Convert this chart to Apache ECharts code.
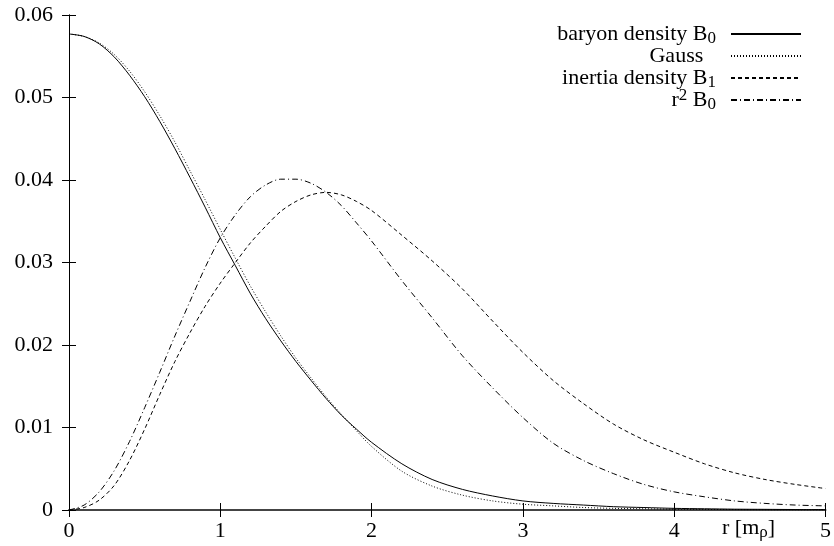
<!DOCTYPE html>
<html>
<head>
<meta charset="utf-8">
<script src="https://cdn.jsdelivr.net/npm/echarts@6/dist/echarts.min.js"></script>
<style>html,body{margin:0;padding:0;background:#fff;}#c{width:834px;height:546px;}</style>
</head>
<body>
<div id="c"></div>
<script>
var seriesNames = ['baryon density B0', 'Gauss', 'inertia density B1', 'r2 B0'];
var xTicks = [0, 1, 2, 3, 4, 5];
var yTicks = [0, 0.01, 0.02, 0.03, 0.04, 0.05, 0.06];
var rValues = [0,0.1,0.2,0.3,0.4,0.5,0.6,0.7,0.8,0.9,1.0,1.1,1.2,1.3,1.4,1.5,1.6,1.7,1.8,1.9,2.0,2.2,2.4,2.6,2.8,3.0,3.2,3.4,3.6,3.8,4.0,4.2,4.4,4.6,4.8,5.0];
var baryonB0 = [0.0577,0.0574,0.0565,0.0549,0.0527,0.0501,0.0471,0.0438,0.0403,0.0367,0.0330,0.0296,0.0262,0.0232,0.0205,0.0180,0.0157,0.0135,0.0115,0.0098,0.0082,0.0056,0.0037,0.0025,0.0017,0.0011,0.0008,0.0006,0.0004,0.0003,0.0002,0.00015,0.0001,0.00008,0.00006,0.00005];
var gauss = [0.0577,0.0574,0.0566,0.0552,0.0532,0.0507,0.0478,0.0446,0.0411,0.0376,0.0340,0.0305,0.0271,0.0240,0.0211,0.0184,0.0160,0.0137,0.0116,0.0096,0.0077,0.0047,0.0029,0.0018,0.0011,0.0007,0.0005,0.0003,0.0002,0.00015,0.0001,0.00007,0.00005,0.00003,0.00002,0.00001];
var inertiaB1 = [0,0.0003,0.0012,0.0030,0.0060,0.0098,0.0140,0.0180,0.0215,0.0247,0.0275,0.0300,0.0324,0.0344,0.0362,0.0374,0.0382,0.0385,0.0382,0.0374,0.0363,0.0333,0.0302,0.0268,0.0229,0.0191,0.0157,0.0129,0.0104,0.0085,0.0070,0.0056,0.0045,0.0037,0.0031,0.0026];
var r2B0 = [0,0.0006,0.0022,0.0048,0.0083,0.0124,0.0167,0.0211,0.0253,0.0294,0.0330,0.0358,0.0380,0.0394,0.0401,0.0401,0.0396,0.0385,0.0369,0.0348,0.0326,0.0278,0.0233,0.0187,0.0148,0.0112,0.0081,0.0060,0.0044,0.0031,0.0022,0.0016,0.0011,0.0008,0.0006,0.0005];

var FONT = 'Liberation Serif';
function pairs(vals) { return rValues.map(function (r, i) { return [r, vals[i]]; }); }
var legendLabels = {
  'baryon density B0': 'baryon density B{sub|0}',
  'Gauss': 'Gauss{sub|   }',
  'inertia density B1': 'inertia density B{sub|1}',
  'r2 B0': 'r{sup|2} B{sub|0}'
};
var richStyles = {
  sub: { fontFamily: FONT, fontSize: 17, color: '#000', lineHeight: 12, padding: [9, 0, 0, 0] },
  sup: { fontFamily: FONT, fontSize: 17, color: '#000', lineHeight: 12, padding: [0, 0, 9, 0] }
};
function mkSeries(name, vals, type) {
  return {
    name: name, type: 'line', data: pairs(vals), smooth: 0.3, symbol: 'none', showSymbol: false,
    lineStyle: { color: '#000', width: 1, type: type }, itemStyle: { color: '#000' },
    silent: true, animation: false
  };
}
var baseAxisStyle = { lineStyle: { color: '#000', width: 1 } };
var chart = echarts.init(document.getElementById('c'));
chart.setOption({
  animation: false,
  backgroundColor: '#fff',
  grid: { left: 69, right: 5, top: 15, bottom: 36 },
  legend: {
    data: seriesNames, orient: 'vertical', right: 27, top: 16, align: 'right',
    itemWidth: 70, itemHeight: 14, itemGap: -4,
    itemStyle: { opacity: 0 },
    formatter: function (n) { return legendLabels[n]; },
    textStyle: { fontFamily: FONT, fontSize: 22, lineHeight: 21, color: '#000', padding: [0, 10, 0, 0], rich: richStyles }
  },
  xAxis: [
    { type: 'value', min: 0, max: 5, interval: 1, position: 'bottom',
      axisLine: baseAxisStyle, axisTick: { inside: true, length: 7, lineStyle: { color: '#000' } },
      axisLabel: { fontFamily: FONT, fontSize: 22, color: '#000', margin: 10,
        formatter: function (v) { return xTicks.indexOf(v) >= 0 ? String(v) : ''; } },
      splitLine: { show: false } },
    { type: 'value', min: 0, max: 5, interval: 1, position: 'top',
      axisLine: { lineStyle: { color: '#444', width: 2 } }, axisTick: { inside: true, length: 7, lineStyle: { color: '#000' } },
      axisLabel: { show: false }, splitLine: { show: false } }
  ],
  yAxis: [
    { type: 'value', min: 0, max: 0.06, interval: 0.01, position: 'left',
      axisLine: { show: true, lineStyle: { color: '#000', width: 1 } },
      axisTick: { show: true, inside: true, length: 7, lineStyle: { color: '#000' } },
      axisLabel: { fontFamily: FONT, fontSize: 22, color: '#000', margin: 16,
        formatter: function (v) {
          for (var i = 0; i < yTicks.length; i++) { if (Math.abs(yTicks[i] - v) < 1e-9) return String(yTicks[i]); }
          return '';
        } },
      splitLine: { show: false } },
    { type: 'value', min: 0, max: 0.06, interval: 0.01, position: 'right',
      axisLine: { show: true, lineStyle: { color: '#000', width: 1 } },
      axisTick: { show: true, inside: true, length: 7, lineStyle: { color: '#000' } },
      axisLabel: { show: false }, splitLine: { show: false } }
  ],
  graphic: [
    { type: 'text', left: 722, top: 515, silent: true,
      style: { text: 'r [m{sub|ρ}]', fontFamily: FONT, fontSize: 22, fill: '#000', rich: richStyles } }
  ],
  series: [
    mkSeries(seriesNames[0], baryonB0, 'solid'),
    mkSeries(seriesNames[1], gauss, [1, 2]),
    mkSeries(seriesNames[2], inertiaB1, [4, 3]),
    mkSeries(seriesNames[3], r2B0, [6, 3, 1, 3])
  ]
});
</script>
</body>
</html>
